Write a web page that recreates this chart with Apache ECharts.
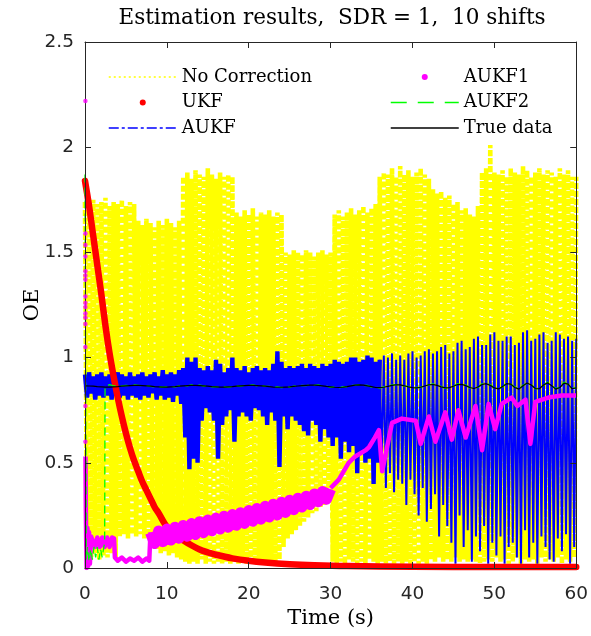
<!DOCTYPE html>
<html><head><meta charset="utf-8">
<script src="https://cdn.jsdelivr.net/npm/echarts@6/dist/echarts.min.js"></script>
<style>html,body{margin:0;padding:0;background:#fff}#c{width:591px;height:636px}</style>
</head><body><div id="c"></div>
<script>
// ---------------- data ----------------
const FINE_STEP = 0.25;          // sampling step (s) of No Correction / AUKF
const COARSE_STEP = 0.5;         // sampling step (s) of the smoother series
const xTicks = [0, 10, 20, 30, 40, 50, 60];
const yTicks = [0, 0.5, 1, 1.5, 2, 2.5];

// No Correction: rapid oscillation, alternating peak / trough, t = 0..60 every 0.25 s
const noCorrection = [
  1.74,0.06,1.72,0.05,1.75,0.07,1.73,0.04,1.74,0.06,1.76,0.05,
  1.72,0.07,1.74,0.05,1.73,0.15,1.75,0.16,1.72,0.14,1.74,0.16,
  1.73,0.15,1.65,0.16,1.63,0.14,1.66,0.15,1.64,0.16,1.62,0.09,
  1.65,0.07,1.63,0.08,1.66,0.06,1.64,0.07,1.62,0.05,1.65,0.04,
  1.86,0.03,1.88,0.02,1.85,0.03,1.89,0.02,1.87,0.04,1.86,0.02,
  1.90,0.03,1.87,0.02,1.85,0.03,1.88,0.02,1.86,0.03,1.87,0.02,
  1.86,0.03,1.69,0.02,1.67,0.03,1.70,0.02,1.68,0.03,1.71,0.02,
  1.67,0.03,1.69,0.02,1.68,0.03,1.70,0.02,1.67,0.03,1.69,0.04,
  1.68,0.10,1.50,0.14,1.49,0.16,1.51,0.18,1.50,0.20,1.49,0.22,
  1.51,0.24,1.50,0.26,1.48,0.27,1.50,0.29,1.51,0.30,1.49,0.32,
  1.50,0.03,1.68,0.02,1.70,0.03,1.67,0.02,1.69,0.04,1.71,0.03,
  1.68,0.02,1.70,0.03,1.72,0.02,1.69,0.04,1.71,0.03,1.73,0.02,
  1.86,0.03,1.88,0.02,1.87,0.03,1.90,0.02,1.86,0.03,1.91,0.02,
  1.87,0.03,1.89,0.02,1.86,0.03,1.88,0.02,1.90,0.03,1.87,0.02,
  1.85,0.04,1.80,0.03,1.78,0.05,1.79,0.03,1.76,0.04,1.77,0.03,
  1.73,0.05,1.74,0.03,1.70,0.04,1.71,0.03,1.68,0.04,1.67,0.03,
  1.72,0.02,1.88,0.03,1.90,0.04,2.01,0.03,1.88,0.05,1.87,0.03,
  1.89,0.04,1.86,0.02,1.90,0.03,1.88,0.05,1.87,0.02,1.91,0.04,
  1.89,0.03,1.86,0.04,1.88,0.02,1.90,0.05,1.87,0.03,1.89,0.04,
  1.88,0.03,1.86,0.05,1.90,0.02,1.87,0.04,1.89,0.03,1.86,0.05,
  1.86];

// AUKF: t = 0..60 every 0.25 s
const aukf = [
  0.92,0.81,0.93,0.83,0.91,0.80,0.92,0.82,0.93,0.81,0.91,0.82,
  0.92,0.80,0.91,0.83,0.93,0.81,0.92,0.82,0.91,0.80,0.93,0.82,
  0.91,0.81,0.92,0.80,0.93,0.82,0.91,0.81,0.92,0.83,0.93,0.80,
  0.91,0.82,0.94,0.80,0.92,0.81,0.93,0.79,0.92,0.82,0.94,0.78,
  0.95,0.62,1.00,0.47,0.98,0.52,1.00,0.50,0.95,0.70,0.94,0.76,
  0.96,0.74,0.94,0.70,0.99,0.52,0.97,0.68,0.93,0.72,0.95,0.75,
  1.00,0.60,0.95,0.72,0.94,0.74,0.96,0.72,0.93,0.70,0.95,0.76,
  0.96,0.75,0.94,0.72,0.95,0.68,0.94,0.74,0.97,0.70,1.03,0.48,
  0.98,0.72,0.95,0.66,0.96,0.72,0.95,0.70,0.96,0.68,0.97,0.65,
  0.95,0.63,0.97,0.70,0.96,0.68,0.95,0.60,0.97,0.66,0.96,0.62,
  0.97,0.58,0.99,0.62,0.98,0.52,0.97,0.60,0.98,0.55,1.00,0.58,
  1.00,0.45,0.98,0.55,0.99,0.50,1.01,0.52,1.00,0.40,0.98,0.50,
  0.99,0.48,1.01,0.38,1.00,0.45,1.02,0.36,0.99,0.42,1.01,0.40,
  0.99,0.30,1.02,0.42,1.03,0.35,1.00,0.25,1.01,0.38,1.03,0.22,
  1.04,0.28,1.02,0.35,1.03,0.15,1.05,0.30,1.06,0.20,1.02,0.12,
  1.03,0.02,1.07,0.25,1.08,0.10,1.04,0.18,1.05,0.03,1.09,0.15,
  1.10,0.08,1.06,0.20,1.06,0.02,1.11,0.12,1.12,0.06,1.08,0.15,
  1.08,0.02,1.10,0.10,1.10,0.12,1.06,0.05,1.07,0.02,1.12,0.18,
  1.13,0.05,1.08,0.12,1.09,0.02,1.11,0.15,1.12,0.10,1.07,0.04,
  1.08,0.03,1.12,0.14,1.11,0.08,1.09,0.16,1.10,0.02,1.08,0.10,
  1.09];
const AUKF_SPLIT_T = 36;   // dense band before, sparse spikes after

// UKF: [time, value]
const ukfT = [0,0.5,1,1.5,2,2.5,3,3.5,4,4.5,5,5.5,6,6.5,7,7.5,8,8.5,9,10,11,12,13,14,15,16,18,20,22,25,28,32,40,50,60];
const ukfV = [1.84,1.72,1.58,1.44,1.30,1.15,1.02,0.91,0.81,0.72,0.64,0.57,0.51,0.46,0.41,0.37,0.33,0.29,0.26,0.195,0.16,0.132,0.108,0.088,0.074,0.063,0.046,0.034,0.026,0.018,0.013,0.009,0.006,0.005,0.005];

// AUKF1: isolated dots at start, then trace
const aukf1DotT = [0.05,0.05,0.05,0.05,0.05,0.05,0.05,0.05,0.05,0.05,0.05,0.05,0.05,0.05,0.05,0.05];
const aukf1DotV = [2.22,1.59,1.535,1.48,1.41,1.39,1.37,1.29,1.26,1.24,1.21,1.19,1.16,1.05,0.77,0.60];
const aukf1StartT = [0.06,0.1,0.15,0.2,0.3,0.4,0.5,0.6,0.75,0.9,1.2,1.5,1.8,2.1,2.4,2.7,3.0,3.3,3.55,3.65,4,4.5,5,5.5,6,6.5,7,7.5,7.85,8];
const aukf1StartV = [0.53,0.3,0.12,0.0,0.19,0.01,0.17,0.02,0.15,0.145,0.10,0.145,0.10,0.145,0.10,0.145,0.10,0.145,0.14,0.05,0.035,0.05,0.03,0.045,0.035,0.05,0.03,0.045,0.035,0.17];
// band t = 8..30 every 0.5 s (alternating upper / lower edge of the thick band)
const aukf1Band = [
  0.168,0.116,0.176,0.125,0.185,0.133,0.194,0.142,0.202,0.151,0.211,0.159,
  0.220,0.168,0.228,0.177,0.237,0.185,0.246,0.194,0.254,0.203,0.263,0.212,
  0.273,0.222,0.283,0.232,0.293,0.242,0.303,0.252,0.313,0.264,0.322,0.277,
  0.332,0.290,0.341,0.302,0.352,0.315,0.363,0.327,0.375];
const aukf1EndT = [30,30.5,31,32.2,33,34.3,34.7,35.4,35.9,36.3,37.5,38.7,40.4,41,42,42.8,44,44.8,45.6,46.5,47.7,48.5,49.3,50.1,50.9,52.1,52.8,53.8,54.4,55,56.6,58.2,60];
const aukf1EndV = [0.38,0.40,0.42,0.50,0.53,0.56,0.575,0.62,0.655,0.46,0.69,0.71,0.70,0.59,0.72,0.60,0.74,0.61,0.75,0.62,0.77,0.56,0.78,0.66,0.78,0.81,0.77,0.80,0.59,0.79,0.81,0.82,0.82];

// AUKF2: start transient, then t = 2.5..60 every 0.5 s
const aukf2StartT = [0,0.08,0.15,0.3,0.5,0.7,0.9,1.1,1.3,1.5,1.7,1.9,2.1,2.3,2.4,2.45];
const aukf2StartV = [1.87,0.9,0.04,0.1,0.03,0.09,0.04,0.1,0.05,0.1,0.04,0.09,0.05,0.1,0.12,0.86];
const aukf2 = [
  0.868,0.872,0.866,0.864,0.866,0.868,0.866,
  0.870,0.868,0.866,0.867,0.863,0.861,0.862,0.859,0.861,0.862,0.861,0.865,
  0.867,0.866,0.870,0.867,0.869,0.865,0.866,0.861,0.862,0.859,0.861,0.860,
  0.863,0.865,0.864,0.868,0.867,0.870,0.866,0.868,0.863,0.863,0.859,0.861,
  0.857,0.861,0.860,0.864,0.864,0.868,0.867,0.871,0.868,0.870,0.865,0.864,
  0.859,0.861,0.856,0.861,0.861,0.868,0.868,0.872,0.867,0.868,0.860,0.860,
  0.855,0.861,0.862,0.870,0.870,0.873,0.864,0.863,0.855,0.858,0.858,0.867,
  0.870,0.875,0.866,0.863,0.854,0.859,0.863,0.875,0.872,0.870,0.856,0.856,
  0.858,0.876,0.875,0.872,0.854,0.854,0.860,0.880,0.873,0.861,0.848,0.869,
  0.877,0.874,0.851,0.856,0.868,0.884,0.864,0.854,0.856,0.884,0.872,0.857,
  0.854];

// True data: t = 0..60 every 0.5 s
const trueData = [
  0.866,0.865,0.864,0.862,0.861,0.860,0.860,0.861,0.862,0.864,0.866,0.867,
  0.868,0.868,0.867,0.866,0.864,0.862,0.861,0.860,0.860,0.861,0.862,0.864,
  0.866,0.867,0.868,0.868,0.867,0.866,0.864,0.862,0.861,0.860,0.860,0.861,
  0.862,0.864,0.866,0.867,0.868,0.868,0.867,0.866,0.864,0.862,0.860,0.859,
  0.859,0.860,0.861,0.863,0.865,0.867,0.868,0.869,0.869,0.868,0.866,0.863,
  0.861,0.859,0.858,0.859,0.862,0.866,0.869,0.870,0.869,0.866,0.862,0.858,
  0.857,0.859,0.863,0.868,0.871,0.870,0.866,0.861,0.857,0.856,0.859,0.865,
  0.871,0.872,0.868,0.861,0.856,0.857,0.864,0.872,0.873,0.867,0.858,0.853,
  0.860,0.872,0.876,0.868,0.856,0.851,0.862,0.876,0.874,0.858,0.850,0.866,
  0.879,0.870,0.853,0.852,0.870,0.880,0.866,0.850,0.858,0.879,0.874,0.852,
  0.856];

// ---------------- helpers ----------------
function onGrid(vals, t0, step) { return vals.map((v, i) => [t0 + i * step, v]); }
function pairs(ts, vs) { return ts.map((t, i) => [t, vs[i]]); }

const aukfAll = onGrid(aukf, 0, FINE_STEP);
const aukfDense = aukfAll.filter(p => p[0] <= AUKF_SPLIT_T);
const aukfSparse = aukfAll.filter(p => p[0] >= AUKF_SPLIT_T);
const aukf1Head = pairs(aukf1StartT, aukf1StartV);
const aukf1Mid = onGrid(aukf1Band, 8, COARSE_STEP);
const aukf1Tail = pairs(aukf1EndT, aukf1EndV);
const aukf2Line = pairs(aukf2StartT, aukf2StartV).concat(onGrid(aukf2, 2.5, COARSE_STEP));

// ---------------- chart ----------------
const chart = echarts.init(document.getElementById('c'), null, { renderer: 'canvas' });
const axisColor = '#262626';
const serif = 'DejaVu Serif';
const sans = 'DejaVu Sans';

function makeAxis(pos, min, max, interval, showLabels, name, nameGap) {
  const a = {
    type: 'value', position: pos, min: min, max: max, interval: interval, z: 10,
    axisLine: { show: true, onZero: false, lineStyle: { color: axisColor, width: 1 } },
    axisTick: { show: true, inside: true, length: 6, lineStyle: { color: axisColor, width: 1 } },
    axisLabel: { show: showLabels, fontFamily: sans, fontSize: 18.5, color: axisColor, margin: pos === 'left' ? 11 : 17 },
    splitLine: { show: false }
  };
  if (name) {
    a.name = name; a.nameLocation = 'middle'; a.nameGap = nameGap; a.nameMoveOverlap = false;
    a.nameTextStyle = { fontFamily: serif, fontSize: 21, color: '#000' };
  }
  return a;
}

const legendText = { fontFamily: serif, fontSize: 18, color: '#000', lineHeight: 20 };

chart.setOption({
  animation: false,
  backgroundColor: '#fff',
  title: {
    text: 'Estimation results,  SDR = 1,  10 shifts',
    left: 332, top: 7, textAlign: 'center', padding: 0,
    textStyle: { fontFamily: serif, fontSize: 21.5, fontWeight: 'normal', color: '#000' }
  },
  grid: { left: 85, right: 14, top: 42, bottom: 68 },
  xAxis: [
    makeAxis('bottom', xTicks[0], xTicks[xTicks.length - 1], xTicks[1] - xTicks[0], true, 'Time (s)', 40),
    makeAxis('top', xTicks[0], xTicks[xTicks.length - 1], xTicks[1] - xTicks[0], false)
  ],
  yAxis: [
    makeAxis('left', yTicks[0], yTicks[yTicks.length - 1], yTicks[1] - yTicks[0], true, 'OE', 42),
    makeAxis('right', yTicks[0], yTicks[yTicks.length - 1], yTicks[1] - yTicks[0], false)
  ],
  legend: [
    {
      orient: 'vertical', left: 108, top: 67, padding: 0, itemWidth: 68, itemHeight: 6, itemGap: 5.5,
      textStyle: legendText, selectedMode: false,
      data: [
        { name: 'No Correction', itemStyle: { opacity: 0 }, lineStyle: { width: 1.5, type: [2, 3] } },
        { name: 'UKF', icon: 'circle' },
        { name: 'AUKF', itemStyle: { opacity: 0 }, lineStyle: { width: 1.5, type: [10, 3, 3, 3] } }
      ]
    },
    {
      orient: 'vertical', left: 390, top: 67, padding: 0, itemWidth: 68, itemHeight: 6, itemGap: 5.5,
      textStyle: legendText, selectedMode: false,
      data: [
        { name: 'AUKF1', icon: 'circle' },
        { name: 'AUKF2', itemStyle: { opacity: 0 }, lineStyle: { width: 1.5, type: [16, 11] } },
        { name: 'True data', itemStyle: { opacity: 0 }, lineStyle: { width: 1.5, type: 'solid' } }
      ]
    }
  ],
  series: [
    {
      name: 'No Correction', type: 'line', data: onGrid(noCorrection, 0, FINE_STEP), showSymbol: false,
      color: '#FFFF00', lineStyle: { width: 4.6, type: [6, 2], join: 'bevel' }, silent: true
    },
    {
      name: 'AUKF', type: 'line', data: aukfDense, showSymbol: false,
      color: '#0000FF', lineStyle: { width: 4.4, join: 'bevel' }, silent: true
    },
    {
      name: 'AUKF', type: 'line', data: aukfSparse, showSymbol: false,
      color: '#0000FF', lineStyle: { width: 2, join: 'bevel' }, silent: true
    },
    {
      name: 'UKF', type: 'line', data: pairs(ukfT, ukfV), showSymbol: false, smooth: 0.3,
      color: '#FF0000', lineStyle: { width: 6.5, cap: 'round', join: 'round' }, silent: true
    },
    {
      name: 'AUKF1', type: 'line', data: aukf1Head, showSymbol: false,
      color: '#FF00FF', lineStyle: { width: 4.5, join: 'round' }, silent: true
    },
    {
      name: 'AUKF1', type: 'line', data: aukf1Mid, showSymbol: false,
      color: '#FF00FF', lineStyle: { width: 11, join: 'round' }, silent: true
    },
    {
      name: 'AUKF1', type: 'line', data: aukf1Tail, showSymbol: false,
      color: '#FF00FF', lineStyle: { width: 4.5, join: 'round' }, silent: true
    },
    {
      name: 'AUKF2', type: 'line', data: aukf2Line, showSymbol: false,
      color: '#00FF00', lineStyle: { width: 1.3, type: [8, 5] }, silent: true
    },
    {
      name: 'True data', type: 'line', data: onGrid(trueData, 0, COARSE_STEP), showSymbol: false,
      color: '#000000', lineStyle: { width: 1.2 }, silent: true
    },
    {
      name: 'AUKF1', type: 'scatter', data: pairs(aukf1DotT, aukf1DotV), symbolSize: 4.5, z: 12,
      color: '#FF00FF', silent: true
    }
  ]
});
</script></body></html>
